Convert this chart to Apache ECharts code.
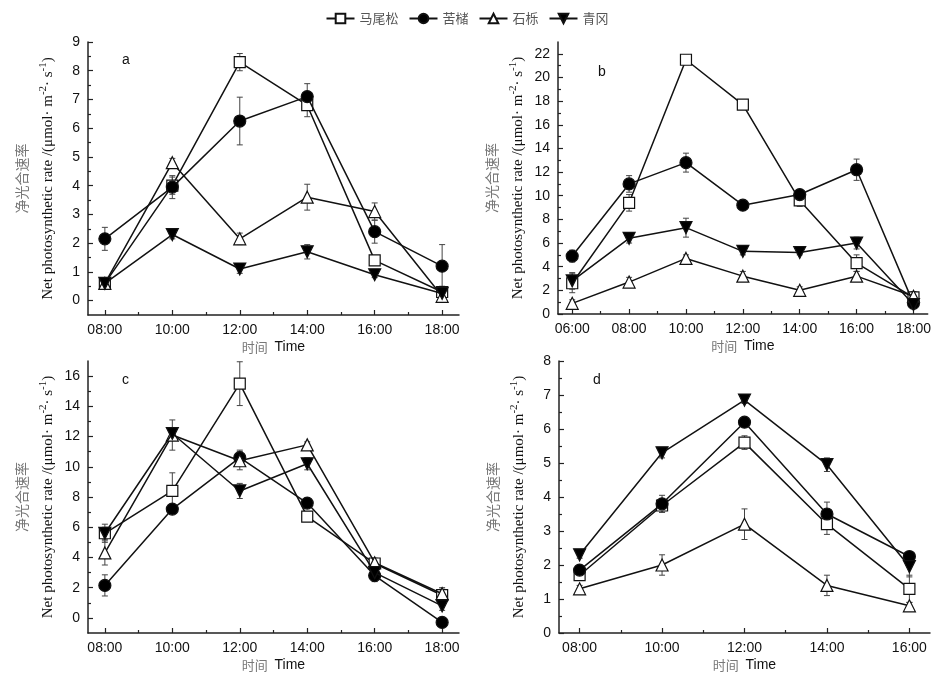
<!DOCTYPE html>
<html>
<head>
<meta charset="utf-8">
<script src="https://cdn.jsdelivr.net/npm/echarts@6/dist/echarts.min.js"></script>
<style>
  html, body { margin: 0; padding: 0; background: #fff; }
  #chart { width: 934px; height: 677px; }
</style>
</head>
<body>
<div id="chart"></div>
<script>
// species, in legend order
const species = ['马尾松', '苦槠', '石栎', '青冈']

// x positions (hour of day) per panel
const hoursA = [8, 10, 12, 14, 16, 18]
const hoursB = [6, 8, 10, 12, 14, 16, 18]
const hoursC = [8, 10, 12, 14, 16, 18]
const hoursD = [8, 10, 12, 14, 16]

// panel a: rows follow species order
const valuesA = [
  [0.6, 4.0, 8.3, 6.8, 1.4, 0.3],
  [2.15, 3.95, 6.25, 7.1, 2.4, 1.2],
  [0.6, 4.8, 2.15, 3.6, 3.1, 0.15],
  [0.6, 2.3, 1.1, 1.7, 0.9, 0.25]
]
const errorsA = [
  [0.1, 0.3, 0.3, 0.4, 0.1, 0.2],
  [0.4, 0.4, 0.83, 0.45, 0.4, 0.75],
  [0.1, 0.15, 0.2, 0.45, 0.3, 0.2],
  [0.1, 0.15, 0.15, 0.25, 0.1, 0.1]
]

// panel b
const valuesB = [
  [2.6, 9.4, 21.5, 17.7, 9.6, 4.3, 1.4],
  [4.9, 11.0, 12.8, 9.2, 10.1, 12.2, 0.9],
  [0.9, 2.7, 4.7, 3.2, 2.0, 3.2, 1.5],
  [2.8, 6.4, 7.3, 5.3, 5.2, 6.0, 0.8]
]
const errorsB = [
  [0.8, 0.7, 0.4, 0.2, 0.5, 0.7, 0.5],
  [0.5, 0.7, 0.8, 0.2, 0.3, 0.9, 0.2],
  [0.3, 0.4, 0.3, 0.4, 0.3, 0.4, 0.3],
  [0.7, 0.4, 0.8, 0.3, 0.2, 0.5, 0.3]
]

// panel c
const valuesC = [
  [5.6, 8.4, 15.5, 6.7, 3.6, 1.5],
  [2.15, 7.2, 10.6, 7.6, 2.8, -0.3],
  [4.3, 12.1, 10.4, 11.45, 3.65, 1.6],
  [5.6, 12.2, 8.4, 10.2, 3.0, 0.8]
]
const errorsC = [
  [0.4, 1.2, 1.45, 0.3, 0.3, 0.5],
  [0.7, 0.2, 0.5, 0.3, 0.4, 0.2],
  [0.8, 1.0, 0.6, 0.2, 0.3, 0.3],
  [0.6, 0.4, 0.5, 0.4, 0.3, 0.3]
]

// panel d
const valuesD = [
  [1.7, 3.75, 5.6, 3.2, 1.3],
  [1.85, 3.8, 6.2, 3.5, 2.25],
  [1.3, 2.0, 3.2, 1.4, 0.8],
  [2.3, 5.3, 6.85, 4.95, 1.95]
]
const errorsD = [
  [0.1, 0.2, 0.2, 0.3, 0.4],
  [0.1, 0.25, 0.1, 0.35, 0.1],
  [0.1, 0.3, 0.45, 0.3, 0.1],
  [0.1, 0.15, 0.1, 0.2, 0.3]
]

// y tick labels per panel
const yTicksA = [0, 1, 2, 3, 4, 5, 6, 7, 8, 9]
const yTicksB = [0, 2, 4, 6, 8, 10, 12, 14, 16, 18, 20, 22]
const yTicksC = [0, 2, 4, 6, 8, 10, 12, 14, 16]
const yTicksD = [0, 1, 2, 3, 4, 5, 6, 7, 8]

const panels = [
  { letter: 'a', hours: hoursA, values: valuesA, errors: errorsA, yTicks: yTicksA, xRange: [7.5, 18.5], yRange: [-0.5, 9],
    grid: { left: 88, top: 42, width: 371, height: 273 }, letterPos: [117, 48] },
  { letter: 'b', hours: hoursB, values: valuesB, errors: errorsB, yTicks: yTicksB, xRange: [5.5, 18.5], yRange: [0, 23],
    grid: { left: 558, top: 42, width: 372, height: 272 }, letterPos: [593, 60] },
  { letter: 'c', hours: hoursC, values: valuesC, errors: errorsC, yTicks: yTicksC, xRange: [7.5, 18.5], yRange: [-1, 17],
    grid: { left: 88, top: 361, width: 371, height: 272 }, letterPos: [117, 368] },
  { letter: 'd', hours: hoursD, values: valuesD, errors: errorsD, yTicks: yTicksD, xRange: [7.5, 16.5], yRange: [0, 8],
    grid: { left: 559, top: 361, width: 371, height: 272 }, letterPos: [588, 368] }
]

const symbols = [
  { symbol: 'rect', fill: '#fff', size: 11 },
  { symbol: 'circle', fill: '#000', size: 12 },
  { symbol: 'triangle', fill: '#fff', size: 12 },
  { symbol: 'path://M0,0L20,0L10,17Z', fill: '#000', size: 12 }
]

const axisColor = '#222'
const hh = v => (v < 10 ? '0' : '') + v + ':00'

// minor ticks sit halfway between labelled ticks
const minorOf = ticks => ticks.slice(0, -1).map((t, i) => (t + ticks[i + 1]) / 2)

const yName = '{cn|净光合速率}\n{en|Net photosynthetic rate /(μmol· m}{sup|-2}{en|· s}{sup|-1}{en|)}'

const renderErr = (params, api) => {
  const x = api.value(0), y = api.value(1), e = api.value(2)
  const hi = api.coord([x, y + e])
  const lo = api.coord([x, y - e])
  const w = 3
  const style = { stroke: '#444', lineWidth: 1 }
  return {
    type: 'group',
    children: [
      { type: 'line', shape: { x1: hi[0], y1: hi[1], x2: lo[0], y2: lo[1] }, style },
      { type: 'line', shape: { x1: hi[0] - w, y1: hi[1], x2: hi[0] + w, y2: hi[1] }, style },
      { type: 'line', shape: { x1: lo[0] - w, y1: lo[1], x2: lo[0] + w, y2: lo[1] }, style }
    ]
  }
}

const grid = [], xAxis = [], yAxis = [], series = [], title = []

panels.forEach((p, pi) => {
  grid.push(p.grid)
  title.push({
    text: p.letter, left: p.letterPos[0], top: p.letterPos[1],
    textStyle: { fontSize: 14, fontWeight: 'normal', fontFamily: 'Liberation Sans', color: '#111' }
  })
  const xMajor = p.hours
  const xMinor = minorOf(p.hours)
  // main x axis
  xAxis.push({
    type: 'value', gridIndex: pi, min: p.xRange[0], max: p.xRange[1], position: 'bottom',
    axisLine: { onZero: false, lineStyle: { color: axisColor, width: 1.5 } },
    axisTick: { inside: true, length: 5, customValues: xMajor, lineStyle: { color: axisColor, width: 1.2 } },
    axisLabel: { customValues: xMajor, formatter: hh, color: '#111', fontSize: 14, fontFamily: 'Liberation Sans', margin: 8 },
    splitLine: { show: false },
    name: '{cn|时间}  {en|Time}', nameLocation: 'middle', nameGap: 25,
    nameTextStyle: {
      rich: {
        cn: { fontFamily: 'Noto Sans CJK SC', fontSize: 13, color: '#777' },
        en: { fontFamily: 'Liberation Sans', fontSize: 14, color: '#111' }
      }
    }
  })
  // minor x ticks
  xAxis.push({
    type: 'value', gridIndex: pi, min: p.xRange[0], max: p.xRange[1], position: 'bottom',
    axisLine: { show: false, onZero: false },
    axisTick: { inside: true, length: 3, customValues: xMinor, lineStyle: { color: axisColor, width: 1.2 } },
    axisLabel: { show: false }, splitLine: { show: false }
  })
  // main y axis
  yAxis.push({
    type: 'value', gridIndex: pi, min: p.yRange[0], max: p.yRange[1], position: 'left',
    axisLine: { show: true, onZero: false, lineStyle: { color: axisColor, width: 1.5 } },
    axisTick: { show: true, inside: true, length: 5, customValues: p.yTicks, lineStyle: { color: axisColor, width: 1.2 } },
    axisLabel: { customValues: p.yTicks, color: '#111', fontSize: 14, fontFamily: 'Liberation Sans', margin: 8 },
    splitLine: { show: false },
    name: yName, nameLocation: 'middle', nameGap: 27, nameRotate: 90,
    nameTextStyle: {
      align: 'center',
      rich: {
        cn: { fontFamily: 'Noto Sans CJK SC', fontSize: 14, color: '#777', lineHeight: 26 },
        en: { fontFamily: 'Liberation Serif', fontSize: 15, color: '#111', lineHeight: 26 },
        sup: { fontFamily: 'Liberation Serif', fontSize: 11, color: '#111', lineHeight: 26, verticalAlign: 'top', padding: [3, 0, 0, 0] }
      }
    }
  })
  // minor y ticks
  yAxis.push({
    type: 'value', gridIndex: pi, min: p.yRange[0], max: p.yRange[1], position: 'left',
    axisLine: { show: false, onZero: false },
    axisTick: { show: true, inside: true, length: 3, customValues: minorOf(p.yTicks), lineStyle: { color: axisColor, width: 1.2 } },
    axisLabel: { show: false }, splitLine: { show: false }
  })

  const errData = []
  p.values.forEach((vals, si) => {
    vals.forEach((v, i) => errData.push([p.hours[i], v, p.errors[si][i]]))
  })
  series.push({
    type: 'custom', name: 'err-' + p.letter, xAxisIndex: pi * 2, yAxisIndex: pi * 2,
    renderItem: renderErr, data: errData, encode: { x: 0, y: 1 }, z: 1, clip: false, silent: true
  })

  p.values.forEach((vals, si) => {
    const s = symbols[si]
    series.push({
      type: 'line', name: species[si], xAxisIndex: pi * 2, yAxisIndex: pi * 2,
      data: vals.map((v, i) => [p.hours[i], v]),
      symbol: s.symbol, symbolSize: s.size, showAllSymbol: true,
      lineStyle: { color: '#111', width: 1.5 },
      itemStyle: { color: s.fill, borderColor: '#111', borderWidth: 1.2 },
      z: 2 + si, clip: false, animation: false
    })
  })
})

const chart = echarts.init(document.getElementById('chart'))
chart.setOption({
  backgroundColor: '#fff',
  animation: false,
  title,
  legend: {
    data: species, top: 7, left: 'center',
    itemWidth: 28, itemHeight: 12, itemGap: 10,
    textStyle: { fontFamily: 'Noto Sans CJK SC', fontSize: 13, color: '#555' }
  },
  grid, xAxis, yAxis, series
})
</script>
</body>
</html>
